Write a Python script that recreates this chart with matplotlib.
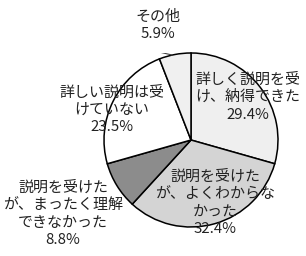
import matplotlib
matplotlib.use('Agg')
import matplotlib.pyplot as plt

plt.rcParams['font.family'] = ['Noto Sans CJK JP', 'DejaVu Sans']

# データ
labels = ['詳しく説明を受\nけ、納得できた', '説明を受けた\nが、よくわからな\nかった',
          '説明を受けた\nが、まったく理解\nできなかった', '詳しい説明は受\nけていない', 'その他']
values = [29.4, 32.4, 8.8, 23.5, 5.9]
colors = ['#efefef', '#d4d4d4', '#8c8c8c', '#ffffff', '#f0f0f0']

# ラベル位置 (ピクセル)
label_px = [(248, 97), (215, 203), (63, 214), (112, 110), (158, 25)]

W, H = 306, 256
cx, cy, r = 191, 140, 87

fig = plt.figure(figsize=(W / 100, H / 100), dpi=100)
ax = fig.add_axes([(cx - r) / W, (H - cy - r) / H, 2 * r / W, 2 * r / H])
ax.pie(values, colors=colors, startangle=90, counterclock=False, radius=1,
       wedgeprops=dict(edgecolor='black', linewidth=1.1))
ax.set_xlim(-1, 1)
ax.set_ylim(-1, 1)
ax.set_aspect('equal')
ax.axis('off')

for lab, v, (px, py) in zip(labels, values, label_px):
    x = (px - cx) / r
    y = (cy - py) / r
    ax.text(x, y, f'{lab}\n{v}%', ha='center', va='center', fontsize=10.8,
            color='#222222', linespacing=1.3)

# その他 の引出線
ax.plot([(157 - cx) / r, (159 - cx) / r, (172 - cx) / r],
        [(cy - 47) / r, (cy - 52) / r, (cy - 55) / r], color='#444444', lw=0.8)

fig.savefig('out.png', dpi=100)
